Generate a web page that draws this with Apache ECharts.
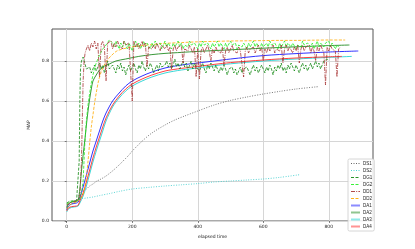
<!DOCTYPE html>
<html><head><meta charset="utf-8">
<script src="https://cdn.jsdelivr.net/npm/echarts@6/dist/echarts.min.js"></script>
<style>html,body{margin:0;padding:0;background:#fff}#c{width:415px;height:249px}</style>
</head><body><div id="c"></div>
<script>
// ---- data ----
const seriesNames = ['DS1','DS2','DG1','DG2','DD1','DD2','DA1','DA2','DA3','DA4'];
const xTicks = [0,200,400,600,800];
const yTicks = [0,0.2,0.4,0.6,0.8];

const ds1T = [0,10,20,30,35,40,50,60,70,80,92,100,120,150,190,200,234,260,300,330,360,400,450,500,550,600,650,700,770];
const ds1V = [0.07,0.09,0.1,0.105,0.11,0.14,0.15,0.16,0.175,0.185,0.2,0.206,0.225,0.265,0.33,0.35,0.405,0.44,0.48,0.505,0.525,0.55,0.58,0.603,0.62,0.635,0.648,0.66,0.672];

const ds2T = [0,10,20,30,35,38,40,50,60,80,100,130,160,200,250,300,350,400,450,500,550,600,650,713];
const ds2V = [0.06,0.08,0.09,0.095,0.1,0.11,0.115,0.113,0.115,0.12,0.127,0.137,0.148,0.16,0.168,0.175,0.181,0.187,0.195,0.2,0.205,0.21,0.218,0.232];

const dg1HeadT = [0,5,10,20,30,35,38,40,42,45];
const dg1HeadV = [0.09,0.097,0.1,0.1,0.102,0.105,0.3,0.6,0.76,0.8];
const dg1NoiseStart = 50, noiseStep = 5;
const dg1NoiseV = [
0.82,0.79,0.76,0.75,0.77,0.74,0.76,0.78,0.75,0.77,
0.79,0.76,0.78,0.74,0.77,0.80,0.76,0.75,0.78,0.77,
0.74,0.78,0.76,0.79,0.75,0.77,0.73,0.76,0.78,0.75,
0.77,0.79,0.76,0.74,0.78,0.76,0.80,0.77,0.75,0.78,
0.76,0.79,0.77,0.74,0.76,0.78,0.75,0.79,0.77,0.76,
0.78,0.80,0.77,0.79,0.76,0.78,0.81,0.77,0.79,0.76,
0.78,0.80,0.77,0.79,0.75,0.78,0.80,0.76,0.79,0.77,
0.78,0.75,0.77,0.79,0.76,0.74,0.78,0.76,0.79,0.77,
0.75,0.78,0.76,0.74,0.77,0.75,0.78,0.76,0.73,0.76,
0.75,0.77,0.74,0.76,0.73,0.75,0.77,0.74,0.76,0.75,
0.77,0.75,0.73,0.76,0.78,0.75,0.77,0.74,0.76,0.78,
0.76,0.74,0.77,0.75,0.78,0.76,0.73,0.77,0.75,0.78,
0.76,0.79,0.75,0.77,0.74,0.78,0.76,0.79,0.77,0.75,
0.78,0.76,0.74,0.77,0.79,0.76,0.78,0.75,0.77,0.79,
0.76,0.78,0.80,0.77,0.79,0.76,0.78,0.80,0.79,0.81,
0.80];

const dg2HeadT = [0,10,20,30,35,40,45,50,55,60,65,70,75,80,85,90,95,100,105,110,115,120,125,130];
const dg2HeadV = [0.085,0.095,0.1,0.1,0.102,0.11,0.14,0.2,0.38,0.5,0.58,0.64,0.69,0.73,0.765,0.79,0.81,0.83,0.845,0.86,0.87,0.88,0.89,0.905];
const dg2NoiseStart = 135;
const dg2NoiseV = [
0.91,0.89,0.87,0.90,0.88,0.86,0.89,0.87,0.90,0.88,
0.86,0.89,0.88,0.85,0.88,0.90,0.87,0.89,0.86,0.88,
0.90,0.87,0.89,0.88,0.86,0.89,0.87,0.90,0.88,0.87,
0.89,0.86,0.88,0.90,0.87,0.89,0.88,0.86,0.89,0.87,
0.88,0.90,0.87,0.89,0.86,0.88,0.89,0.87,0.90,0.88,
0.87,0.89,0.88,0.86,0.89,0.87,0.90,0.88,0.87,0.89,
0.88,0.86,0.89,0.87,0.88,0.90,0.87,0.89,0.88,0.86,
0.89,0.87,0.88,0.90,0.88,0.87,0.89,0.86,0.88,0.89,
0.87,0.89,0.88,0.86,0.89,0.87,0.88,0.90,0.87,0.89,
0.88,0.86,0.89,0.87,0.88,0.89,0.87,0.90,0.88,0.87,
0.89,0.88,0.86,0.89,0.87,0.88,0.90,0.87,0.89,0.88,
0.87,0.89,0.88,0.86,0.88,0.89,0.87,0.90,0.88,0.87,
0.89,0.88,0.87,0.89,0.86,0.88,0.90,0.87,0.89,0.88,
0.87,0.89,0.88,0.90,0.87,0.89,0.88,0.86,0.88,0.87];

const dd1HeadT = [0,10,20,30,35,40,45,48,50,53,56,60];
const dd1HeadV = [0.08,0.09,0.095,0.1,0.1,0.12,0.3,0.55,0.7,0.8,0.84,0.86];
const dd1NoiseStart = 65;
const dd1NoiseV = [
0.88,0.85,0.89,0.87,0.90,0.86,0.89,0.72,0.88,0.90,
0.87,0.70,0.89,0.88,0.90,0.86,0.89,0.87,0.90,0.88,
0.89,0.86,0.90,0.88,0.87,0.89,0.88,0.60,0.90,0.87,
0.89,0.86,0.88,0.90,0.87,0.89,0.77,0.87,0.88,0.86,
0.88,0.86,0.89,0.87,0.85,0.88,0.89,0.86,0.88,0.85,
0.87,0.76,0.86,0.88,0.85,0.87,0.86,0.88,0.79,0.86,
0.87,0.85,0.88,0.86,0.84,0.87,0.72,0.86,0.71,0.85,
0.87,0.84,0.86,0.88,0.85,0.80,0.86,0.84,0.87,0.85,
0.86,0.84,0.87,0.78,0.85,0.87,0.84,0.86,0.88,0.85,
0.86,0.84,0.87,0.85,0.86,0.72,0.85,0.87,0.84,0.86,
0.85,0.87,0.84,0.86,0.88,0.85,0.87,0.80,0.86,0.84,
0.87,0.85,0.86,0.88,0.84,0.86,0.87,0.85,0.88,0.79,
0.86,0.88,0.85,0.87,0.86,0.84,0.87,0.85,0.88,0.79,
0.86,0.88,0.85,0.87,0.86,0.88,0.84,0.87,0.85,0.80,
0.87,0.85,0.88,0.86,0.84,0.68,0.87,0.85,0.88,0.86,
0.87,0.85,0.72,0.86,0.87];

const dd2T = [0,10,20,30,35,40,50,55,60,65,70,75,80,85,90,97,105,113,122,135,153,183,220,260,300,350,400,450,500,550,600,650,700,750,800,850];
const dd2V = [0.06,0.08,0.09,0.095,0.1,0.11,0.13,0.17,0.22,0.3,0.39,0.47,0.53,0.59,0.64,0.70,0.745,0.775,0.80,0.825,0.85,0.865,0.875,0.882,0.888,0.892,0.896,0.898,0.9,0.901,0.902,0.903,0.903,0.904,0.905,0.905];

const da1T = [0,5,15,30,35,40,50,60,70,80,90,100,110,120,140,160,180,200,230,260,300,350,400,450,500,600,700,800,890];
const da1V = [0.055,0.075,0.085,0.09,0.095,0.115,0.17,0.23,0.29,0.35,0.40,0.45,0.50,0.54,0.60,0.64,0.675,0.70,0.725,0.745,0.765,0.78,0.79,0.80,0.81,0.827,0.837,0.845,0.85];

const da2T = [0,5,15,30,35,40,45,50,55,60,65,70,75,80,90,100,115,130,150,180,220,260,300,350,400,500,600,700,800,863];
const da2V = [0.065,0.085,0.095,0.1,0.105,0.16,0.25,0.33,0.40,0.48,0.55,0.61,0.66,0.70,0.73,0.755,0.775,0.785,0.80,0.81,0.823,0.832,0.838,0.843,0.848,0.856,0.864,0.871,0.877,0.88];

const da3T = [0,5,15,30,35,40,50,60,70,80,90,100,110,120,140,160,180,200,230,260,300,350,400,450,500,600,700,800,870];
const da3V = [0.045,0.06,0.068,0.072,0.075,0.09,0.125,0.175,0.235,0.295,0.35,0.40,0.45,0.50,0.57,0.615,0.65,0.675,0.70,0.72,0.74,0.755,0.765,0.776,0.786,0.80,0.81,0.818,0.823];

const da4T = [0,5,15,30,35,40,50,60,70,80,90,100,110,120,140,160,180,200,230,260,300,350,400,450,500,600,700,800,840];
const da4V = [0.05,0.065,0.072,0.075,0.08,0.1,0.14,0.195,0.255,0.315,0.37,0.42,0.47,0.515,0.58,0.625,0.66,0.685,0.71,0.73,0.75,0.763,0.773,0.783,0.792,0.805,0.815,0.821,0.823];

// ---- build ----
function pairs(t, v){ return t.map((x,i)=>[x, v[i]]); }
function noisy(headT, headV, start, vals){
  const out = pairs(headT, headV);
  vals.forEach((v,i)=>out.push([start + i*noiseStep, v]));
  return out;
}
const styles = {
  DS1:{color:'#555555', type:[1,1.5], width:0.8},
  DS2:{color:'#33cccc', type:[1,1.5], width:0.8},
  DG1:{color:'#118811', type:[3,1.5], width:0.8},
  DG2:{color:'#22ee22', type:[3,1.5], width:0.8},
  DD1:{color:'#a83535', type:[4,1.2,1,1.2], width:0.8},
  DD2:{color:'#ffaa00', type:[3,1.5], width:0.8},
  DA1:{color:'#1a1aff', type:'solid', width:0.9},
  DA2:{color:'#228b22', type:'solid', width:0.9},
  DA3:{color:'#22d4d4', type:'solid', width:0.9},
  DA4:{color:'#ff2a2a', type:'solid', width:0.9}
};
const dataMap = {
  DS1: pairs(ds1T, ds1V),
  DS2: pairs(ds2T, ds2V),
  DG1: noisy(dg1HeadT, dg1HeadV, dg1NoiseStart, dg1NoiseV),
  DG2: noisy(dg2HeadT, dg2HeadV, dg2NoiseStart, dg2NoiseV),
  DD1: noisy(dd1HeadT, dd1HeadV, dd1NoiseStart, dd1NoiseV),
  DD2: pairs(dd2T, dd2V),
  DA1: pairs(da1T, da1V),
  DA2: pairs(da2T, da2V),
  DA3: pairs(da3T, da3V),
  DA4: pairs(da4T, da4V)
};
const drawOrder = ['DS1','DS2','DA1','DA2','DA3','DA4','DD2','DG1','DG2','DD1'];
const series = drawOrder.map(n=>({
  name:n, type:'line', data:dataMap[n], showSymbol:false, symbol:'none',
  smooth: n.startsWith('DA')||n==='DS1'||n==='DS2'||n==='DD2' ? 0.3 : false,
  lineStyle:{color:styles[n].color, type:styles[n].type, width:styles[n].width},
  itemStyle:{color:styles[n].color},
  animation:false, z: 2
}));

const chart = echarts.init(document.getElementById('c'), null, {renderer:'canvas'});
const axisFont = {fontSize:4.5, color:'#222', fontFamily:'DejaVu Sans'};
chart.setOption({
  backgroundColor:'#fff',
  animation:false,
  grid:{left:52, right:42, top:29, bottom:28, show:true, borderColor:'#555', borderWidth:1, outerBoundsMode:'none'},
  xAxis:{type:'value', min:-45, max:935,
    name:'elapsed time', nameLocation:'middle', nameGap:9, nameTextStyle:axisFont,
    axisLine:{show:false},
    axisTick:{show:true, length:2, lineStyle:{color:'#333', width:0.6}, customValues:xTicks},
    axisLabel:{...axisFont, margin:3, customValues:xTicks},
    splitLine:{show:true, lineStyle:{color:'#d6d6d6', width:1}}
  },
  yAxis:{type:'value', min:0, max:0.96,
    name:'MAP', nameLocation:'middle', nameGap:13, nameRotate:90, nameTextStyle:axisFont,
    axisLine:{show:false},
    axisTick:{show:true, length:2, lineStyle:{color:'#333', width:0.6}, customValues:yTicks},
    axisLabel:{...axisFont, margin:3, customValues:yTicks, formatter:v=>Number(v).toFixed(1)},
    splitLine:{show:true, lineStyle:{color:'#d6d6d6', width:1}}
  },
  legend:{
    orient:'vertical', left:348, top:159,
    padding:[2,2,2,2], itemWidth:9, itemHeight:4, itemGap:2,
    textStyle:{fontSize:4.5, color:'#222', padding:[0,0,0,-2]},
    itemStyle:{color:'rgba(0,0,0,0)', borderWidth:0, opacity:0},
    backgroundColor:'rgba(255,255,255,0.85)', borderColor:'#cccccc', borderWidth:0.8, borderRadius:1.5,
    data: seriesNames.map(n=> n.startsWith('DA')
      ? {name:n, lineStyle:{width:2, opacity:0.5}}
      : {name:n, lineStyle:{width:0.9}})
  },
  series: series
});
</script>
</body></html>
